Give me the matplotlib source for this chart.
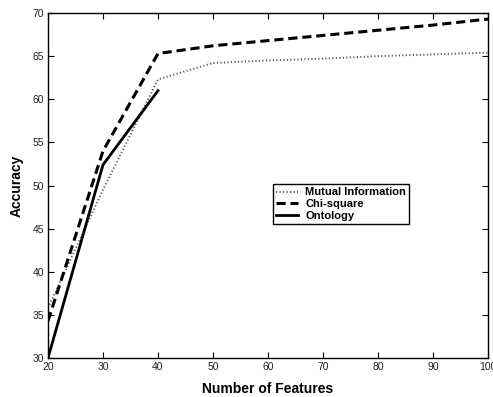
import numpy as np
import matplotlib
matplotlib.use("Agg")
import matplotlib.pyplot as plt

plt.rcParams['font.family'] = ['Liberation Sans', 'DejaVu Sans']

# data
features = [20, 30, 40, 50, 60, 70, 80, 90, 100]
mutual_info = [35.8, 49.5, 62.3, 64.2, 64.5, 64.7, 65.0, 65.2, 65.4]
chi_square = [34.3, 54.0, 65.3, 66.2, 66.8, 67.4, 68.0, 68.6, 69.3]
onto_features = [20, 30, 40]
ontology = [30.0, 52.4, 61.0]

fig = plt.figure(figsize=(4.93, 3.97), dpi=100)
ax = fig.add_axes([48 / 493, 1 - 358 / 397, 440 / 493, 345 / 397])

ax.plot(features, mutual_info, linestyle=(0, (0.6, 1.2)), color='#555555', lw=1.4, label='Mutual Information')
ax.plot(features, chi_square, linestyle=(0, (3, 1.6)), color='black', lw=2.2, label='Chi-square')
ax.plot(onto_features, ontology, linestyle='-', color='black', lw=2.0, label='Ontology')

ax.set_xlim(20, 100)
ax.set_ylim(30, 70)
ax.set_xticks(range(20, 101, 10))
ax.set_yticks(range(30, 71, 5))
ax.tick_params(direction='in', top=True, right=True, labelsize=7.5, length=4,
               width=0.8, labelcolor='#222222', pad=3)
for s in ax.spines.values():
    s.set_linewidth(1.0)

ax.set_xlabel('Number of Features', fontsize=10, fontweight='bold', labelpad=7)
ax.set_ylabel('Accuracy', fontsize=10, fontweight='bold', labelpad=6)

leg = ax.legend(loc='lower left', bbox_to_anchor=(0.511, 0.388), fancybox=False,
                edgecolor='black', framealpha=1, borderpad=0.3, labelspacing=0.15,
                handlelength=2.0, handletextpad=0.6, borderaxespad=0,
                prop={'size': 8, 'weight': 'bold'})
leg.get_frame().set_linewidth(1.0)

fig.savefig('out.png', dpi=100)
